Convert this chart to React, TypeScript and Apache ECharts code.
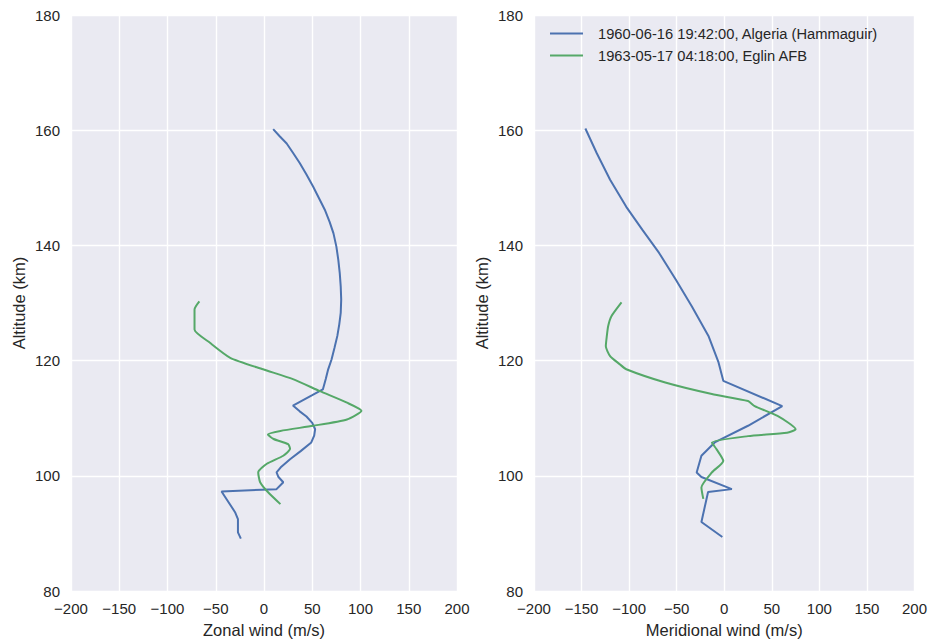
import React, { useEffect, useRef } from "react";
import * as echarts from "echarts";

// [wind (m/s), altitude (km)]
const zonalAlgeria: [number, number][] = [
  [9.5, 160.2], [16, 159], [23.5, 157.7], [30, 156.1], [37, 154.3], [44, 152.3],
  [51, 150.2], [57, 148.2], [63, 146.2], [68, 144.1], [72, 142.1], [75, 139.8],
  [77, 137.5], [78.5, 135.2], [79.5, 132.9], [80, 130.6], [79.5, 128.3],
  [78, 126.3], [76, 124.3], [73, 122.2], [70, 120.2], [66.5, 118.5], [64, 116.8],
  [61, 115], [50, 114], [30, 112.2], [37, 111.2], [44, 110.3], [50, 109.2],
  [53, 108.1], [52, 107], [49, 105.8], [38, 104.3], [27, 102.9], [18, 101.6],
  [13, 100.6], [15, 99.8], [20, 98.9], [13, 97.7], [-44, 97.3], [-30, 93.7],
  [-27, 92.5], [-27, 90.2], [-24, 89.1],
];

const zonalEglin: [number, number][] = [
  [-67, 130.3], [-72, 128.9], [-72, 125.4], [-56, 123.1], [-35, 120.5],
  [-1, 118.5], [30, 116.8], [58, 114.7], [86, 112.7], [101, 111.3], [86, 109.8],
  [51, 108.7], [17, 107.8], [4, 107.2], [10, 106.4], [25, 105.5], [27, 104.7],
  [20, 103.5], [3, 102.1], [-6, 100.6], [-4, 98.9], [4, 97.2], [17, 95.1],
];

const meridionalAlgeria: [number, number][] = [
  [-146, 160.3], [-134, 156.0], [-120, 151.4], [-103, 146.7], [-86, 142.7],
  [-68.5, 138.7], [-51, 134.1], [-34, 129.4], [-16.6, 124.3], [-6, 119.7],
  [-1, 116.5], [61, 112.1], [25, 108.7], [-10, 105.8], [-24, 103.5],
  [-29, 100.6], [-24, 99.8], [8, 97.7], [-17, 97.2], [-24, 92.0], [-2, 89.4],
];

const meridionalEglin: [number, number][] = [
  [-108, 130.1], [-118.6, 127.7], [-122, 126.0], [-123.5, 124.2], [-124.5, 122.5],
  [-120, 120.8], [-110, 119.4], [-103, 118.5], [-62, 116.2], [-13, 114.2],
  [25, 113.0], [32, 112.1], [56, 110.4], [75, 108.1], [66, 107.5], [25, 106.9],
  [-13, 105.8], [-8, 104.6], [-1, 102.6], [-13, 100.6], [-24, 98.0], [-22, 96.0],
];

const seriesNames = [
  "1960-06-16 19:42:00, Algeria (Hammaguir)",
  "1963-05-17 04:18:00, Eglin AFB",
];
const xAxisNames = ["Zonal wind (m/s)", "Meridional wind (m/s)"];
const yAxisName = "Altitude (km)";
const xRange = [-200, 200];
const yRange = [80, 180];

const BLUE = "#4C72B0";
const GREEN = "#55A868";
const FONT = "Liberation Sans";
const TEXT = "#262626";

export default function App() {
  const ref = useRef<HTMLDivElement>(null);
  useEffect(() => {
    if (!ref.current) return;
    const chart = echarts.init(ref.current, undefined, { renderer: "svg" });
    const fmt = (v: number) => String(v).replace("-", "\u2212");
    const mkX = (i: number) => ({
      type: "value",
      gridIndex: i,
      min: xRange[0],
      max: xRange[1],
      interval: 50,
      name: xAxisNames[i],
      nameLocation: "middle",
      nameGap: 29,
      nameTextStyle: { fontSize: 16.5, color: TEXT, fontFamily: FONT },
      axisLine: { show: false },
      axisTick: { show: false },
      axisLabel: { fontSize: 15, color: TEXT, fontFamily: FONT, margin: 10, formatter: fmt },
      splitLine: { show: true, lineStyle: { color: "#ffffff", width: 1.4 } },
    });
    const mkY = (i: number) => ({
      type: "value",
      gridIndex: i,
      min: yRange[0],
      max: yRange[1],
      interval: 20,
      name: yAxisName,
      nameLocation: "middle",
      nameGap: 44,
      nameRotate: 90,
      nameTextStyle: { fontSize: 16.5, color: TEXT, fontFamily: FONT },
      axisLine: { show: false },
      axisTick: { show: false },
      axisLabel: { fontSize: 15, color: TEXT, fontFamily: FONT, margin: 11, formatter: fmt },
      splitLine: { show: true, lineStyle: { color: "#ffffff", width: 1.4 } },
    });
    const mkS = (name: string, data: [number, number][], color: string, idx: number, smooth: number | boolean) => ({
      type: "line",
      name,
      xAxisIndex: idx,
      yAxisIndex: idx,
      data,
      symbol: "none",
      smooth,
      lineStyle: { color, width: 2 },
      itemStyle: { color },
    });
    chart.setOption({
      animation: false,
      backgroundColor: "#ffffff",
      grid: [
        { left: 71, top: 15, width: 386, height: 578, show: true, backgroundColor: "#EAEAF2", borderWidth: 0 },
        { left: 534, top: 15, width: 384, height: 578, show: true, backgroundColor: "#EAEAF2", borderWidth: 0 },
      ],
      xAxis: [mkX(0), mkX(1)],
      yAxis: [mkY(0), mkY(1)],
      legend: {
        data: seriesNames,
        left: 545,
        top: 21,
        orient: "vertical",
        icon: "rect",
        itemWidth: 33,
        itemHeight: 2,
        itemGap: 7,
        textStyle: { fontSize: 14.7, color: TEXT, fontFamily: FONT, padding: [0, 0, 0, 10], lineHeight: 15 },
      },
      series: [
        mkS(seriesNames[0], zonalAlgeria, BLUE, 0, false),
        mkS(seriesNames[1], zonalEglin, GREEN, 0, 0.2),
        mkS(seriesNames[0], meridionalAlgeria, BLUE, 1, false),
        mkS(seriesNames[1], meridionalEglin, GREEN, 1, 0.2),
      ],
    });
    return () => chart.dispose();
  }, []);
  return (
    <div
      ref={ref}
      style={{ position: "fixed", left: 0, top: 0, width: 930, height: 643 }}
    />
  );
}
